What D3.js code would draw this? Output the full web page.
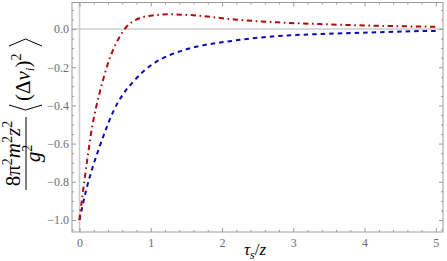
<!DOCTYPE html>
<html>
<head>
<meta charset="utf-8">
<script src="https://cdn.jsdelivr.net/npm/d3@7"></script>
<style>
  html, body { margin: 0; padding: 0; background: #fff; }
  svg { display: block; }
  svg text { font-family: 'Liberation Serif', serif; }
</style>
</head>
<body>
<svg id="chart"></svg>
<script>
'use strict';

// values
const redT = [0, 0.04, 0.07, 0.12, 0.16, 0.235, 0.305, 0.40, 0.47, 0.565, 0.66, 0.80, 1.0, 1.27, 1.6, 2.17, 2.78, 3.37, 4.2, 5.0];
const redV = [-1.0, -0.877, -0.79, -0.655, -0.55, -0.407, -0.302, -0.18, -0.11, -0.04, 0.012, 0.05, 0.07, 0.077, 0.072, 0.05, 0.035, 0.026, 0.017, 0.012];

const blueT = [0, 0.094, 0.188, 0.282, 0.376, 0.47, 0.61, 0.75, 0.89, 1.08, 1.27, 1.5, 2.16, 2.78, 3.4, 4.18, 4.95, 5.0];
const blueV = [-1.0, -0.843, -0.72, -0.616, -0.52, -0.435, -0.342, -0.278, -0.224, -0.171, -0.136, -0.106, -0.061, -0.037, -0.026, -0.017, -0.010, -0.010];

const xMajor = [0, 1, 2, 3, 4, 5];
const xMinor = [0.2, 0.4, 0.6, 0.8, 1.2, 1.4, 1.6, 1.8, 2.2, 2.4, 2.6, 2.8, 3.2, 3.4, 3.6, 3.8, 4.2, 4.4, 4.6, 4.8];
const yMajor = [-1.0, -0.8, -0.6, -0.4, -0.2, 0.0];
const yMinor = [-1.05, -0.95, -0.9, -0.85, -0.75, -0.7, -0.65, -0.55, -0.5, -0.45, -0.35, -0.3, -0.25, -0.15, -0.1, -0.05, 0.05, 0.1];

const W = 447, H = 261;
const frame = { left: 72, right: 443, top: 2.5, bottom: 232 };
const grey = '#9a9a9a';
const serif = "'Liberation Serif', serif";

const svg = d3.select('#chart')
    .attr('width', W)
    .attr('height', H);

const x = d3.scaleLinear()
    .domain([-0.105, 5.1])
    .range([frame.left, frame.right]);

const y = d3.scaleLinear()
    .domain([-1.063, 0.139])
    .range([frame.bottom, frame.top]);

// zero lines
svg.append('line')
    .attr('x1', frame.left).attr('x2', frame.right)
    .attr('y1', y(0)).attr('y2', y(0))
    .attr('stroke', '#cdcdcd').attr('stroke-width', 1.6);

svg.append('line')
    .attr('x1', x(0)).attr('x2', x(0))
    .attr('y1', frame.top).attr('y2', frame.bottom)
    .attr('stroke', '#cdcdcd').attr('stroke-width', 1.6);

// curves
svg.append('clipPath').attr('id', 'clip')
  .append('rect')
    .attr('x', frame.left).attr('y', frame.top)
    .attr('width', frame.right - frame.left)
    .attr('height', frame.bottom - frame.top);

const line = d3.line()
    .x(d => x(d[0]))
    .y(d => y(d[1]))
    .curve(d3.curveMonotoneX);

svg.append('path')
    .datum(blueT.map((t, i) => [t, blueV[i]]))
    .attr('clip-path', 'url(#clip)')
    .attr('fill', 'none')
    .attr('stroke', '#0a0ab4')
    .attr('stroke-width', 2)
    .attr('stroke-dasharray', '4.5,4')
    .attr('d', line);

svg.append('path')
    .datum(redT.map((t, i) => [t, redV[i]]))
    .attr('clip-path', 'url(#clip)')
    .attr('fill', 'none')
    .attr('stroke', '#b40a0a')
    .attr('stroke-width', 2)
    .attr('stroke-dasharray', '5.3,3.6,1.6,3.6')
    .attr('d', line);

// frame + ticks on every side
svg.append('rect')
    .attr('x', frame.left).attr('y', frame.top)
    .attr('width', frame.right - frame.left)
    .attr('height', frame.bottom - frame.top)
    .attr('fill', 'none')
    .attr('stroke', grey)
    .attr('stroke-width', 1);

const fmtY = d => d3.format('.1f')(d).replace('-', '\u2212');

function addAxis(axis, tx, ty) {
  return svg.append('g')
      .attr('transform', `translate(${tx},${ty})`)
      .call(axis)
      .call(g => g.select('.domain').remove());
}

addAxis(d3.axisBottom(x).tickValues(xMajor).tickSize(-4).tickPadding(6).tickFormat(d3.format('d')), 0, frame.bottom);
addAxis(d3.axisBottom(x).tickValues(xMinor).tickSize(-2).tickFormat(''), 0, frame.bottom);
addAxis(d3.axisTop(x).tickValues(xMajor).tickSize(-4).tickFormat(''), 0, frame.top);
addAxis(d3.axisTop(x).tickValues(xMinor).tickSize(-2).tickFormat(''), 0, frame.top);

addAxis(d3.axisLeft(y).tickValues(yMajor).tickSize(-4).tickPadding(3).tickFormat(fmtY), frame.left, 0);
addAxis(d3.axisLeft(y).tickValues(yMinor).tickSize(-2).tickFormat(''), frame.left, 0);
addAxis(d3.axisRight(y).tickValues(yMajor).tickSize(-4).tickFormat(''), frame.right, 0);
addAxis(d3.axisRight(y).tickValues(yMinor).tickSize(-2).tickFormat(''), frame.right, 0);

svg.selectAll('.tick line').attr('stroke', grey);
svg.selectAll('.tick text')
    .attr('fill', '#6e6e6e')
    .attr('font-family', serif)
    .style('font-family', serif)
    .style('font-size', '12px');

// x axis title: tau_s / z
const xt = svg.append('text')
    .attr('x', 255).attr('y', 254.5)
    .attr('text-anchor', 'middle')
    .attr('font-family', serif)
    .style('font-size', '17px');
xt.append('tspan').style('font-style', 'italic').text('\u03c4');
xt.append('tspan').style('font-style', 'italic').style('font-size', '12px').attr('dy', 4).text('s');
xt.append('tspan').attr('dy', -4).text('/');
xt.append('tspan').style('font-style', 'italic').text('z');

// y axis title, rotated
const lab = svg.append('g')
    .attr('transform', 'translate(26,190) rotate(-90)')
    .attr('font-family', serif)
    .style('font-size', '21px');

lab.append('line')
    .attr('x1', 0).attr('x2', 73)
    .attr('y1', 0).attr('y2', 0)
    .attr('stroke', '#000').attr('stroke-width', 1);

const num = lab.append('text').attr('x', 36.5).attr('y', -6).attr('text-anchor', 'middle');
num.append('tspan').text('8');
num.append('tspan').text('\u03c0');
num.append('tspan').style('font-size', '14px').attr('dy', -8).text('2');
num.append('tspan').style('font-style', 'italic').attr('dy', 8).text('m');
num.append('tspan').style('font-size', '14px').attr('dy', -8).text('2');
num.append('tspan').style('font-style', 'italic').attr('dy', 8).text('z');
num.append('tspan').style('font-size', '14px').attr('dy', -8).text('2');

const den = lab.append('text').attr('x', 36.5).attr('y', 14).attr('text-anchor', 'middle');
den.append('tspan').style('font-style', 'italic').text('g');
den.append('tspan').style('font-size', '14px').attr('dy', -8).text('2');

lab.append('path')
    .attr('d', 'M85,-17L80,-0.5L85,16M144,-17L151,-0.5L144,16')
    .attr('fill', 'none')
    .attr('stroke', '#000')
    .attr('stroke-width', 1);

const avg = lab.append('text').attr('x', 89).attr('y', 4);
avg.append('tspan').text('(\u0394');
avg.append('tspan').style('font-style', 'italic').text('v');
avg.append('tspan').style('font-style', 'italic').style('font-size', '13px').attr('dy', 4).text('i');
avg.append('tspan').attr('dy', -4).text(')');
avg.append('tspan').style('font-size', '14px').attr('dy', -9).text('2');
</script>
</body>
</html>
